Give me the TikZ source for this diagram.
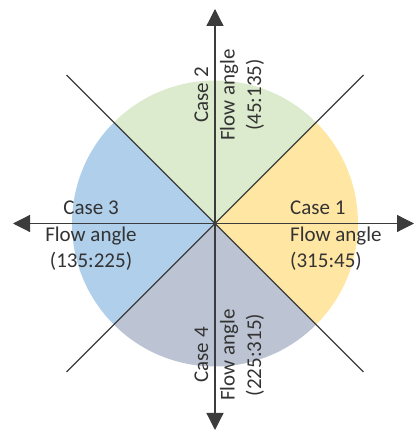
\documentclass[tikz,border=0pt]{standalone}
\usepackage{fontspec}
\setmainfont{Carlito}
\usetikzlibrary{arrows.meta,calc}
\definecolor{secyellow}{HTML}{FFE6A3}
\definecolor{secgreen}{HTML}{DCEBCD}
\definecolor{secblue}{HTML}{B0CFEB}
\definecolor{secgray}{HTML}{BCC4D3}
\definecolor{inkline}{HTML}{3C3C3C}
\definecolor{inktext}{HTML}{333333}
\tikzset{
  axis/.style={draw=inkline, line width=1.2pt, -{Triangle[length=17pt,width=17pt]}},
  diag/.style={draw=inkline, line width=1.2pt},
  lbl/.style={inner sep=0pt, text=inktext, font=\fontsize{21}{26.5}\selectfont},
}
\begin{document}
\begin{tikzpicture}[x=1pt,y=1pt]
\useasboundingbox (0,0) rectangle (416,435);
\coordinate (c) at (215,211.5);
% sectors
\fill[secyellow] (c) -- ++(-45:143) arc[start angle=-45, end angle=45, radius=143] -- cycle;
\fill[secgreen]  (c) -- ++(45:143)  arc[start angle=45, end angle=135, radius=143] -- cycle;
\fill[secblue]   (c) -- ++(135:143) arc[start angle=135, end angle=225, radius=143] -- cycle;
\fill[secgray]   (c) -- ++(225:143) arc[start angle=225, end angle=315, radius=143] -- cycle;
% diagonals
\coordinate (d1) at ($(c)+(45:210)$);
\coordinate (d2) at ($(c)+(135:210)$);
\coordinate (d3) at ($(c)+(225:210)$);
\coordinate (d4) at ($(c)+(315:210)$);
\draw[diag] (d3) -- (d1);
\draw[diag] (d2) -- (d4);
% axes
\coordinate (xl) at (13,211.5);
\coordinate (xr) at (414,211.5);
\coordinate (yt) at (215,426);
\coordinate (yb) at (215,5);
\draw[axis] (c) -- (xr);
\draw[axis] (c) -- (xl);
\draw[axis] (c) -- (yt);
\draw[axis] (c) -- (yb);
% labels
\node[lbl, anchor=base west] (case1) at (290,220)
  {\begin{tabular}[t]{@{}l@{}}Case 1\\Flow angle\\(315:45)\end{tabular}};
\node[lbl, anchor=base] (case3) at (91,220)
  {\begin{tabular}[t]{@{}c@{}}Case 3\\Flow angle\\(135:225)\end{tabular}};
\node[lbl, anchor=base, rotate=90] (case2) at (208,340)
  {\begin{tabular}[t]{@{}c@{}}Case 2\\Flow angle\\(45:135)\end{tabular}};
\node[lbl, anchor=base, rotate=90] (case4) at (208,80)
  {\begin{tabular}[t]{@{}c@{}}Case 4\\Flow angle\\(225:315)\end{tabular}};
\end{tikzpicture}
\end{document}
